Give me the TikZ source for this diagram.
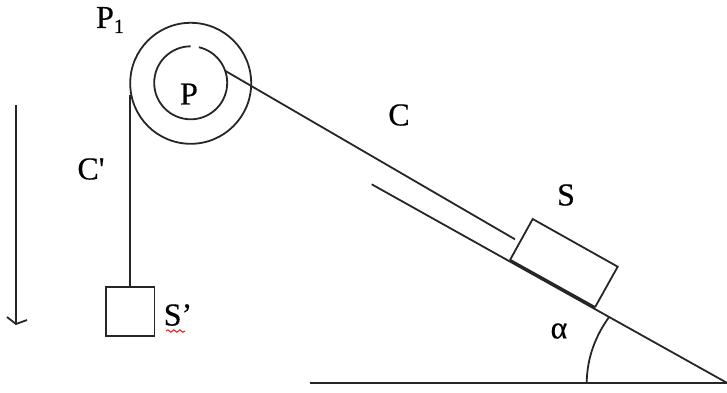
\documentclass[tikz,border=0pt]{standalone}
\usepackage{fontspec}
\newfontfamily\lblfont[FakeBold=0.35]{Liberation Serif}
\usetikzlibrary{decorations.pathmorphing}
\tikzset{
  ln/.style={draw=black!85,line width=1.8pt},
  lbl/.style={inner sep=0pt,font=\lblfont\fontsize{32}{36}\selectfont,text=black},
  squig/.style={draw=red!85!black,line width=0.9pt,decorate,decoration={snake,amplitude=1.2pt,segment length=6pt}}
}
\begin{document}
\begin{tikzpicture}[x=1pt,y=-1pt]
\useasboundingbox (0,0) rectangle (727,392);
% pulleys
\draw[ln] (190.7,83.3) circle (60.5);
\draw[ln] (190.7,46.3) arc[start angle=90,delta angle=347,x radius=36.5,y radius=-36.5];
% anchor points
\coordinate (cpTop) at (130.3,95);
\coordinate (cTop) at (225,70.7);
\coordinate (cEnd) at (515,239.3);
\coordinate (inclA) at (371.7,184.3);
\coordinate (inclB) at (726.7,382.7);
\coordinate (grA) at (310,383.3);
\coordinate (grB) at (727,383.3);
\coordinate (arA) at (586.7,383);
\coordinate (arB) at (609.3,316.7);
\coordinate (arrA) at (16,105);
\coordinate (arrB) at (16,324);
\coordinate (headL) at (7,317);
\coordinate (headR) at (27,320);
% hanging mass
\node[ln,draw,minimum width=48.5pt,minimum height=48.5pt,inner sep=0pt,outer sep=0pt] (mass) at (130.3,311.4) {};
\draw[ln] (cpTop) -- (mass.north);
% rope and incline
\draw[ln] (cTop) -- (cEnd);
\draw[ln] (inclA) -- (inclB);
\draw[ln,line width=2.2pt] (grA) -- (grB);
% block
\coordinate (b1) at (510,260);
\coordinate (b2) at (532.7,219);
\coordinate (b3) at (617.7,266.7);
\coordinate (b4) at (595,307.3);
\draw[ln] (b1) -- (b2) -- (b3) -- (b4);
\draw[ln,line width=2.4pt] (b1) -- (b4);
% angle
\draw[ln] (arA) .. controls (587,357) and (596,335) .. (arB);
% arrow
\draw[ln] (arrA) -- (arrB);
\draw[ln,line join=miter] (headL) -- (arrB) -- (headR);
% labels
\node[lbl] (lp1) at (110,20) {P\raisebox{-5pt}{\lblfont\fontsize{20}{22}\selectfont 1}};
\node[lbl] (lp) at (189,94) {P};
\node[lbl] (lc) at (399,115) {C};
\node[lbl] (lcp) at (91,169) {C'};
\node[lbl] (ls) at (566,195) {S};
\node[lbl] (lsp) at (178,315) {S’};
\node[lbl] (la) at (559,331) {α};
\coordinate (sqA) at (166,331);
\coordinate (sqB) at (185,331);
\draw[squig] (sqA) -- (sqB);
\end{tikzpicture}
\end{document}
